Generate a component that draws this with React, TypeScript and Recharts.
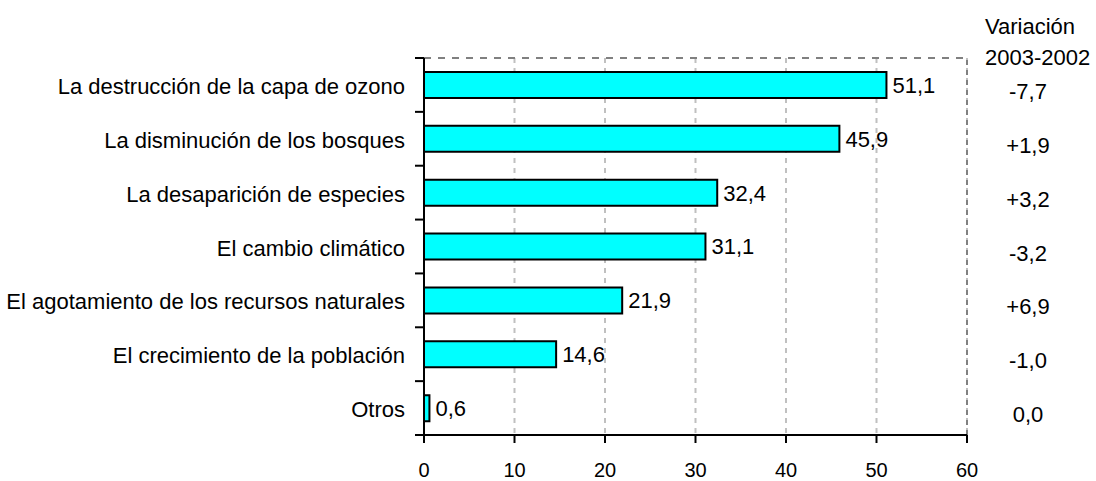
import React from "react"
import {
  Bar,
  BarChart,
  CartesianGrid,
  LabelList,
  ReferenceLine,
  XAxis,
  YAxis,
} from "recharts"

const categories = [
  "La destrucción de la capa de ozono",
  "La disminución de los bosques",
  "La desaparición de especies",
  "El cambio climático",
  "El agotamiento de los recursos naturales",
  "El crecimiento de la población",
  "Otros",
]
const values = [51.1, 45.9, 32.4, 31.1, 21.9, 14.6, 0.6]
const variation = ["-7,7", "+1,9", "+3,2", "-3,2", "+6,9", "-1,0", "0,0"]
const xTicks = [0, 10, 20, 30, 40, 50, 60]

const data = categories.map((name, i) => ({ name, value: values[i], variacion: variation[i] }))

const W = 1096
const H = 481
const TOP = 57
const TOP_AXIS_H = 1
const BOTTOM_AXIS_H = 46
const BAND = (H - TOP - TOP_AXIS_H - BOTTOM_AXIS_H) / categories.length
const FONT = "'Liberation Sans', Arial, sans-serif"

const fmt = (v: number) => v.toFixed(1).replace(".", ",")

function CategoryTick(props: any) {
  const { x, y, payload, index } = props
  return (
    <g>
      <line x1={x - 9} x2={x} y1={y - BAND / 2} y2={y - BAND / 2} stroke="#000" strokeWidth={2} />
      {index === categories.length - 1 && (
        <line x1={x - 9} x2={x} y1={y + BAND / 2} y2={y + BAND / 2} stroke="#000" strokeWidth={2} />
      )}
      <text x={x - 19} y={y} dy={9} textAnchor="end" fontSize={22} fill="#000" fontFamily={FONT}>
        {payload.value}
      </text>
    </g>
  )
}

function VariationTick(props: any) {
  const { x, y, payload } = props
  return (
    <text x={x + 61} y={y} dy={14} textAnchor="middle" fontSize={22} fill="#000" fontFamily={FONT}>
      {payload.value}
    </text>
  )
}

export default function App() {
  return (
    <div style={{ position: "absolute", left: 0, top: 0, width: W, height: H, background: "#fff" }}>
      <div
        style={{
          position: "absolute",
          left: 985,
          top: 11,
          fontFamily: FONT,
          fontSize: 22,
          lineHeight: "31px",
          color: "#000",
        }}
      >
        Variación
        <br />
        2003-2002
      </div>
      <BarChart
        width={W}
        height={H}
        data={data}
        layout="vertical"
        margin={{ top: TOP, right: 0, bottom: 0, left: 0 }}
        barCategoryGap={14}
      >
        <CartesianGrid horizontal={false} vertical stroke="#c0c0c0" strokeWidth={2} strokeDasharray="5 5" />
        <XAxis
          type="number"
          domain={[0, 60]}
          ticks={xTicks}
          height={BOTTOM_AXIS_H}
          stroke="#000"
          strokeWidth={2}
          tickSize={8}
          tickMargin={20}
          tick={{ fill: "#000", fontSize: 20, fontFamily: FONT }}
        />
        <XAxis
          xAxisId="top"
          orientation="top"
          type="number"
          domain={[0, 60]}
          height={TOP_AXIS_H}
          tick={false}
          tickLine={false}
          axisLine={{ stroke: "#808080", strokeWidth: 2, strokeDasharray: "7 7" }}
        />
        <YAxis
          type="category"
          dataKey="name"
          width={424}
          stroke="#000"
          strokeWidth={2}
          tickLine={false}
          tickSize={0}
          tickMargin={0}
          tick={<CategoryTick />}
          interval={0}
        />
        <YAxis
          yAxisId="right"
          orientation="right"
          type="category"
          dataKey="variacion"
          width={129}
          axisLine={false}
          tickLine={false}
          tickSize={0}
          tickMargin={0}
          tick={<VariationTick />}
          interval={0}
        />
        <ReferenceLine x={60} stroke="#808080" strokeWidth={2} strokeDasharray="5 5" />
        <Bar dataKey="value" fill="#00ffff" stroke="#000" strokeWidth={2} isAnimationActive={false}>
          <LabelList
            dataKey="value"
            position="right"
            offset={6}
            formatter={(v: any) => fmt(Number(v))}
            style={{ fill: "#000", fontSize: 22, fontFamily: FONT }}
          />
        </Bar>
      </BarChart>
    </div>
  )
}
